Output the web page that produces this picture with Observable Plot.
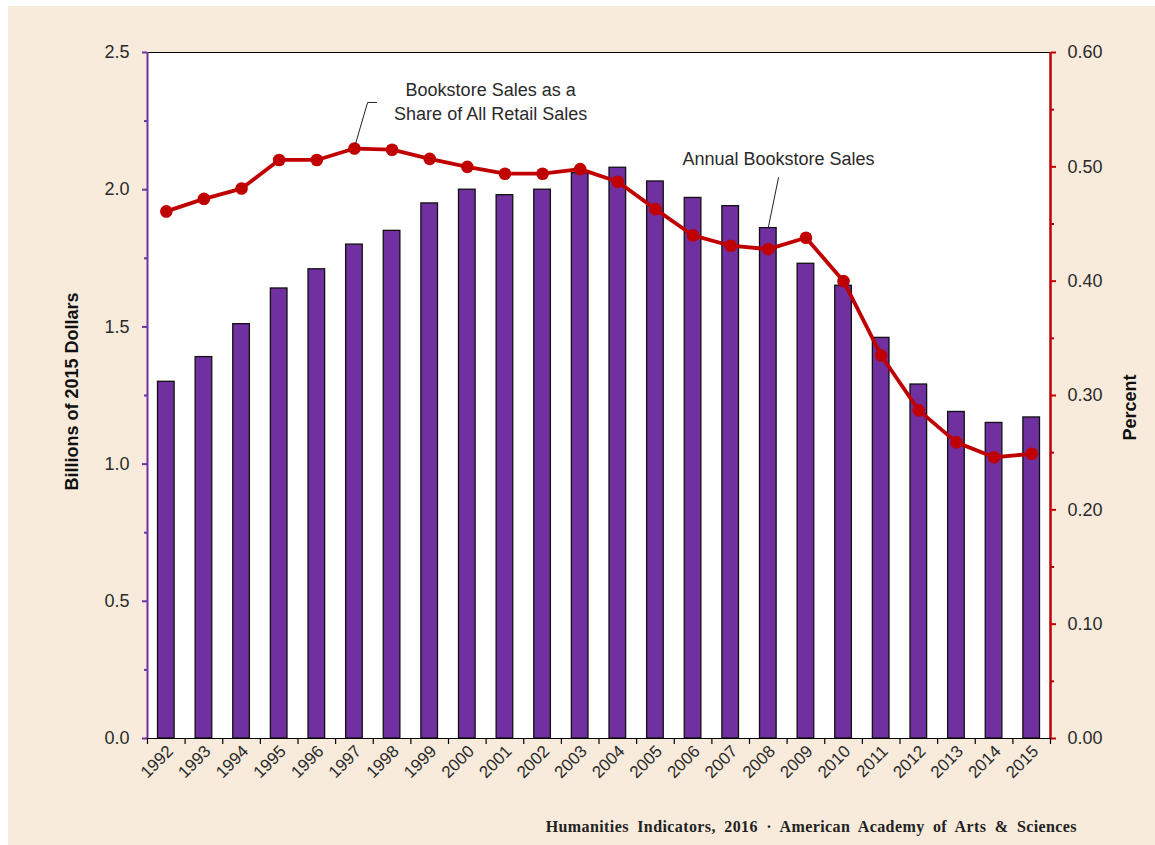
<!DOCTYPE html>
<html><head><meta charset="utf-8">
<script src="https://cdn.jsdelivr.net/npm/d3@7"></script>
<script src="https://cdn.jsdelivr.net/npm/@observablehq/plot@0.6"></script>
<style>
body{margin:0;background:#fff;width:1155px;height:845px;overflow:hidden;position:relative;font-family:"Liberation Sans",Arial,sans-serif}
#bg{position:absolute;left:8px;top:6px;width:1147px;height:839px;background:#F8EBDC}
#chart{position:absolute;left:8px;top:6px}
#footer{position:absolute;right:78px;top:818px;font-family:"Liberation Serif",serif;font-weight:bold;font-size:16px;letter-spacing:0.4px;word-spacing:4px;color:#222;white-space:nowrap}
</style></head><body>
<div id="bg"></div><div id="chart"></div>
<div id="footer">Humanities Indicators, 2016 · American Academy of Arts &amp; Sciences</div>
<script>
const years = [1992,1993,1994,1995,1996,1997,1998,1999,2000,2001,2002,2003,2004,2005,2006,2007,2008,2009,2010,2011,2012,2013,2014,2015];
const sales = [1.30,1.39,1.51,1.64,1.71,1.80,1.85,1.95,2.00,1.98,2.00,2.06,2.08,2.03,1.97,1.94,1.86,1.73,1.65,1.46,1.29,1.19,1.15,1.17];
const share = [0.461,0.472,0.481,0.506,0.506,0.516,0.515,0.507,0.500,0.494,0.494,0.498,0.487,0.463,0.440,0.431,0.428,0.438,0.400,0.335,0.287,0.259,0.246,0.249];
const leftTicks = [0,0.5,1.0,1.5,2.0,2.5];
const leftMinor = [0.25,0.75,1.25,1.75,2.25];
const rightTicks = [0,0.1,0.2,0.3,0.4,0.5,0.6];
const rightMinor = [0.05,0.15,0.25,0.35,0.45,0.55];
const shareLabel = {year: 2000.62, value: 2.325, text: "Bookstore Sales as a\nShare of All Retail Sales"};
const salesLabel = {year: 2008.27, value: 2.11, text: "Annual Bookstore Sales"};
const shareLeader = [{year:1997.03,value:2.168},{year:1997.35,value:2.318},{year:1997.59,value:2.318}];
const salesLeader = [{year:2008.27,value:2.044},{year:2008.0,value:1.862}];

const PURPLE = "#7030A0", RED = "#C00000", INK = "#2a2a2a";
const maxLeft = 2.5, maxRight = 0.6, k = maxLeft / maxRight;
const data = years.map((y, i) => ({year: y, sales: sales[i], share: share[i]}));
const boundaries = [years[0] - 0.5, ...years.map(y => y + 0.5)];

const chart = Plot.plot({
  width: 1147, height: 839,
  marginLeft: 139, marginRight: 105, marginTop: 46, marginBottom: 107,
  x: {domain: [years[0] - 0.5, years[years.length - 1] + 0.5], axis: null},
  y: {domain: [0, maxLeft], axis: null},
  style: {background: "transparent", fontFamily: "Liberation Sans, Arial, sans-serif", fontSize: "17px", color: INK},
  marks: [
    Plot.frame({fill: "white", stroke: null}),
    Plot.rectY(data, {x1: d => d.year - 0.5, x2: d => d.year + 0.5, y: "sales", insetLeft: 10.5, insetRight: 10.5, fill: PURPLE, stroke: "#111", strokeWidth: 1.3}),
    Plot.line(data, {x: "year", y: d => d.share * k, stroke: RED, strokeWidth: 3.8}),
    Plot.dot(data, {x: "year", y: d => d.share * k, r: 6.3, fill: RED, stroke: null}),
    Plot.ruleY([maxLeft], {stroke: "#000", strokeWidth: 1.2}),
    Plot.ruleY([0], {stroke: "#000", strokeWidth: 1.2}),
    Plot.ruleX([years[0] - 0.5], {stroke: PURPLE, strokeWidth: 2}),
    Plot.ruleX([years[years.length - 1] + 0.5], {stroke: RED, strokeWidth: 2.5}),
    Plot.axisY({ticks: leftTicks, anchor: "left", tickSize: 5, tickPadding: 13, stroke: PURPLE, strokeWidth: 2, tickFormat: d3.format(".1f"), label: null, fill: INK, fontSize: 18}),
    Plot.axisY({ticks: leftMinor, anchor: "left", tickSize: 3, stroke: PURPLE, strokeWidth: 2, tickFormat: () => "", label: null}),
    Plot.axisY({ticks: rightTicks.map(p => p * k), anchor: "right", tickSize: 5, tickPadding: 12, stroke: RED, strokeWidth: 2, tickFormat: d => (d / k).toFixed(2), label: null, fill: INK, fontSize: 18}),
    Plot.axisY({ticks: rightMinor.map(p => p * k), anchor: "right", tickSize: 3, stroke: RED, strokeWidth: 2, tickFormat: () => "", label: null}),
    Plot.axisX({ticks: boundaries, anchor: "bottom", tickSize: 6, stroke: "#000", strokeWidth: 1.2, tickFormat: () => "", label: null}),
    Plot.axisX({ticks: years, anchor: "bottom", tickSize: 0, tickPadding: 10, tickRotate: -45, tickFormat: d => String(d), label: null, fill: INK, fontSize: 17, dx: 4}),
    Plot.text(["Billions of 2015 Dollars"], {frameAnchor: "left", textAnchor: "middle", dx: -75, dy: -4, rotate: -90, fontWeight: "bold", fontSize: 18, fill: "#111", style: "letter-spacing:0.8px"}),
    Plot.text(["Percent"], {frameAnchor: "right", textAnchor: "middle", dx: 80, dy: 12, rotate: -90, fontWeight: "bold", fontSize: 18, fill: "#111"}),
    Plot.text([shareLabel], {x: "year", y: "value", text: "text", fontSize: 18, lineHeight: 1.3, fill: INK}),
    Plot.text([salesLabel], {x: "year", y: "value", text: "text", fontSize: 18, fill: INK}),
    Plot.line(shareLeader, {x: "year", y: "value", stroke: "#222", strokeWidth: 1}),
    Plot.line(salesLeader, {x: "year", y: "value", stroke: "#222", strokeWidth: 1})
  ]
});
document.getElementById("chart").append(chart);
</script>
</body></html>
